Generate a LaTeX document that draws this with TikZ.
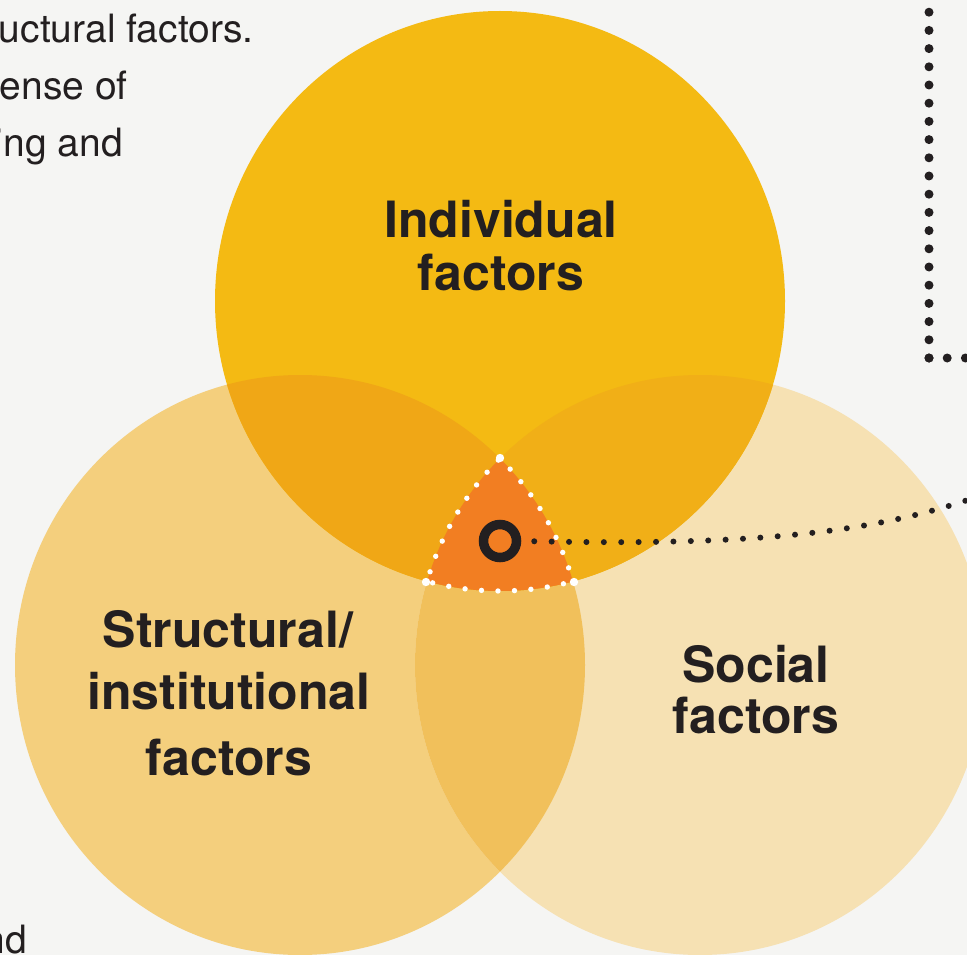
\documentclass[tikz,border=0pt]{standalone}
\usepackage{fontspec}
\setmainfont{TeX Gyre Heros}
\begin{document}
\begin{tikzpicture}[x=1pt,y=-1pt,
  label/.style={font=\fontsize{50}{53}\selectfont\bfseries, text=ink, inner sep=0pt, anchor=base},
  bodytext/.style={font=\fontsize{39}{57}\selectfont, text=ink, inner sep=0pt, anchor=base east},
  rimdots/.style={draw=white, line width=5.4pt, line cap=round, dash pattern=on 0pt off 16.5pt},
  framedots/.style={draw=ink, line width=9pt, line cap=round, dash pattern=on 0pt off 18.2pt},
  linkdots/.style={draw=ink, line width=6pt, line cap=round, dash pattern=on 0pt off 17.4pt},
  hubring/.style={circle, draw=ink, fill=cCore, line width=9.5pt, minimum size=33pt, inner sep=0pt}]

\definecolor{bg}{HTML}{F5F5F3}
\definecolor{ink}{HTML}{231F20}
\definecolor{cTop}{HTML}{F4BA13}
\definecolor{cLeft}{HTML}{F4CF7D}
\definecolor{cRight}{HTML}{F6E1B3}
\definecolor{cTL}{HTML}{F0A716}
\definecolor{cTR}{HTML}{F1AF17}
\definecolor{cLR}{HTML}{F1C05B}
\definecolor{cCore}{HTML}{F27E22}

\path[use as bounding box] (0,0) rectangle (967,955);
\clip (0,0) rectangle (967,955);
\fill[bg] (0,0) rectangle (967,955);

% running text at the left edge
\node[bodytext] (t1) at (254,43) {uctural factors.};
\node[bodytext] (t2) at (128,100) {ense of};
\node[bodytext] (t3) at (123,157) {ing and};
\node[bodytext] (t4) at (27,953) {nd};

% the three discs
\fill[cLeft]  (300,665) ellipse [x radius=285pt, y radius=290pt];
\fill[cRight] (700,665) ellipse [x radius=285pt, y radius=290pt];
\fill[cTop]   (500,301) ellipse [x radius=285pt, y radius=290pt];

% pairwise overlaps
\begin{scope}
  \clip (300,665) ellipse [x radius=285pt, y radius=290pt];
  \fill[cLR] (700,665) ellipse [x radius=285pt, y radius=290pt];
\end{scope}
\begin{scope}
  \clip (500,301) ellipse [x radius=285pt, y radius=290pt];
  \fill[cTL] (300,665) ellipse [x radius=285pt, y radius=290pt];
\end{scope}
\begin{scope}
  \clip (500,301) ellipse [x radius=285pt, y radius=290pt];
  \fill[cTR] (700,665) ellipse [x radius=285pt, y radius=290pt];
\end{scope}

% common core of all three
\begin{scope}
  \clip (500,301) ellipse [x radius=285pt, y radius=290pt];
  \clip (300,665) ellipse [x radius=285pt, y radius=290pt];
  \fill[cCore] (700,665) ellipse [x radius=285pt, y radius=290pt];
\end{scope}

% dotted white rim around the core
\begin{scope}
  \clip (500,301) ellipse [x radius=285pt, y radius=290pt];
  \clip (300,665) ellipse [x radius=285pt, y radius=290pt];
  \draw[rimdots] (700,665) ellipse [x radius=285pt, y radius=290pt];
\end{scope}
\begin{scope}
  \clip (500,301) ellipse [x radius=285pt, y radius=290pt];
  \clip (700,665) ellipse [x radius=285pt, y radius=290pt];
  \draw[rimdots] (300,665) ellipse [x radius=285pt, y radius=290pt];
\end{scope}
\begin{scope}
  \clip (300,665) ellipse [x radius=285pt, y radius=290pt];
  \clip (700,665) ellipse [x radius=285pt, y radius=290pt];
  \draw[rimdots] (500,301) ellipse [x radius=285pt, y radius=290pt];
\end{scope}
\coordinate (coreTop) at (500,458);
\coordinate (coreLeft) at (426,582);
\coordinate (coreRight) at (574,582);
\foreach \c in {coreTop,coreLeft,coreRight}
  \fill[white] (\c) circle (4.2pt);

% labels
\node[label] (ind1) at (501,237) {Individual};
\node[label] (ind2) at (501,290) {factors};
\node[label] (str1) at (228,647) {Structural/};
\node[label] (str2) at (229,709) {institutional};
\node[label] (str3) at (229,775) {factors};
\node[label] (soc1) at (756,682) {Social};
\node[label] (soc2) at (756,733) {factors};

% dotted frame at the upper right
\coordinate (frameCorner) at (929,358);
\coordinate (frameTop) at (929,-12);
\coordinate (frameRight) at (985,358);
\draw[framedots] (frameCorner) -- (frameTop);
\draw[framedots] (frameCorner) -- (frameRight);

% marker in the core and its dotted lead
\node[hubring] (hub) at (500,541) {};
\coordinate (leadEnd) at (985,494);
\draw[linkdots, shorten <=13pt] (hub.east) .. controls (760,546) and (880,532) .. (leadEnd);

\end{tikzpicture}
\end{document}
